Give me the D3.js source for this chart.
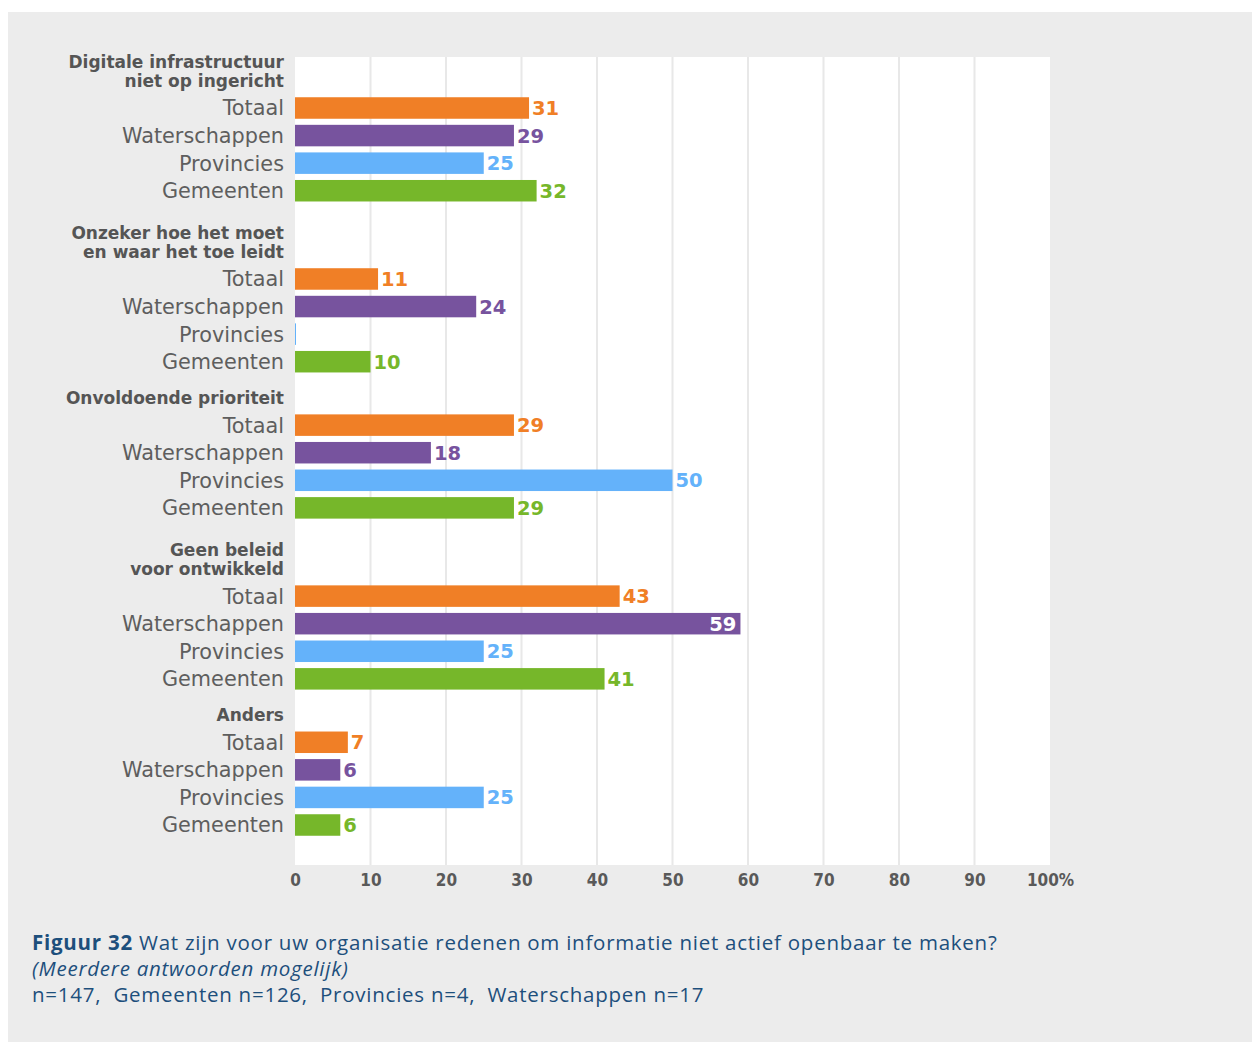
<!DOCTYPE html>
<html lang="nl">
<head>
<meta charset="utf-8">
<title>Figuur 32</title>
<script src="https://d3js.org/d3.v7.min.js"></script>
<style>
  body { margin: 0; background: #fff; }
  .lbl { font-family: "DejaVu Sans", sans-serif; fill: #5e5e5e; }
  .hdr { font-family: "DejaVu Sans", sans-serif; font-weight: bold; fill: #555; }
  .val { font-family: "DejaVu Sans", sans-serif; font-weight: bold; }
  .cap { font-family: "Open Sans", sans-serif; fill: #1d4f7c; }
</style>
</head>
<body>
<svg width="1252" height="1042"></svg>
<script>
// categorieën (koppen) en reeksen
var groups = [
  ["Digitale infrastructuur", "niet op ingericht"],
  ["Onzeker hoe het moet", "en waar het toe leidt"],
  ["Onvoldoende prioriteit"],
  ["Geen beleid", "voor ontwikkeld"],
  ["Anders"]
];
var series = ["Totaal", "Waterschappen", "Provincies", "Gemeenten"];
var colors = ["#f07f26", "#77539e", "#64b2fa", "#76b72a"];

var totaal        = [31, 11, 29, 43, 7];
var waterschappen = [29, 24, 18, 59, 6];
var provincies    = [25, 0, 50, 25, 25];
var gemeenten     = [32, 10, 29, 41, 6];
var values = [totaal, waterschappen, provincies, gemeenten];

var ticks = [0, 10, 20, 30, 40, 50, 60, 70, 80, 90, 100];

var svg = d3.select("svg");

// grijs vlak
svg.append("rect").attr("x", 8).attr("y", 12).attr("width", 1244).attr("height", 1030).attr("fill", "#ececec");

var plot = { left: 295, right: 1050, top: 57, bottom: 865 };
svg.append("rect").attr("x", plot.left).attr("y", plot.top)
  .attr("width", plot.right - plot.left).attr("height", plot.bottom - plot.top).attr("fill", "#fff");

var x = d3.scaleLinear().domain([0, 100]).range([plot.left, plot.right]);

// rij-posities in "eenheden": koppen met twee regels nemen meer ruimte
var rows = [];
var u = 0;
groups.forEach(function(g, gi) {
  if (gi > 0) u += 1.4 + 0.9 * g.length;
  series.forEach(function(s, si) {
    rows.push({ g: gi, s: si, u: u, v: values[si][gi] });
    if (si < 3) u += 1;
  });
});
var y = d3.scaleLinear().domain([0, u]).range([108, 825]);
var barH = 21.5;

// rasterlijnen
svg.append("g").selectAll("line").data(ticks.slice(1, -1)).enter().append("line")
  .attr("x1", function(d) { return x(d); }).attr("x2", function(d) { return x(d); })
  .attr("y1", plot.top).attr("y2", plot.bottom)
  .attr("stroke", "#e8e8e8").attr("stroke-width", 2);

// as
var axis = d3.axisBottom(x).tickValues(ticks).tickSize(0).tickPadding(0)
  .tickFormat(function(d) { return d === 100 ? "100%" : d; });
var ax = svg.append("g").attr("transform", "translate(0," + 874 + ")").call(axis);
ax.select(".domain").remove();
ax.selectAll("text").attr("font-size", 17).attr("dy", "0.71em")
  .attr("font-family", "'DejaVu Sans Condensed', 'DejaVu Sans', sans-serif")
  .attr("font-weight", "bold").attr("fill", "#595959");

// balken
svg.append("g").selectAll("rect").data(rows).enter().append("rect")
  .attr("x", x(0))
  .attr("y", function(d) { return y(d.u) - barH / 2; })
  .attr("width", function(d) { return Math.max(1, x(d.v) - x(0)); })
  .attr("height", barH)
  .attr("fill", function(d) { return colors[d.s]; });

// waarden
svg.append("g").selectAll("text").data(rows.filter(function(d) { return d.v > 0; })).enter().append("text")
  .attr("class", "val")
  .attr("font-size", 19.5)
  .attr("x", function(d) { return d.v > 55 ? x(d.v) - 4 : x(d.v) + 3; })
  .attr("y", function(d) { return y(d.u); })
  .attr("dy", "0.36em")
  .attr("text-anchor", function(d) { return d.v > 55 ? "end" : "start"; })
  .attr("fill", function(d) { return d.v > 55 ? "#fff" : colors[d.s]; })
  .text(function(d) { return d.v; });

// rijlabels
svg.append("g").selectAll("text").data(rows).enter().append("text")
  .attr("class", "lbl")
  .attr("font-size", 20.8)
  .attr("x", plot.left - 11)
  .attr("y", function(d) { return y(d.u); })
  .attr("dy", "0.36em")
  .attr("text-anchor", "end")
  .text(function(d) { return series[d.s]; });

// koppen
groups.forEach(function(g, gi) {
  var first = rows.filter(function(r) { return r.g === gi; })[0];
  var yLast = y(first.u) - 27 - (g.length > 1 ? 0.5 : 0);
  g.forEach(function(line, li) {
    svg.append("text").attr("class", "hdr")
      .attr("font-size", 17)
      .attr("x", plot.left - 11)
      .attr("y", yLast - (g.length - 1 - li) * 18.5)
      .attr("dy", "0.36em")
      .attr("text-anchor", "end")
      .text(line);
  });
});

// onderschrift
var cap = svg.append("g").attr("class", "cap").attr("font-size", 20.5).attr("letter-spacing", 0.75);
var t1 = cap.append("text").attr("x", 32).attr("y", 950);
t1.append("tspan").attr("font-weight", "bold").text("Figuur 32");
t1.append("tspan").text(" Wat zijn voor uw organisatie redenen om informatie niet actief openbaar te maken?");
cap.append("text").attr("x", 32).attr("y", 976).attr("font-style", "italic").text("(Meerdere antwoorden mogelijk)");
cap.append("text").attr("x", 32).attr("y", 1002).attr("xml:space", "preserve").text("n=147,  Gemeenten n=126,  Provincies n=4,  Waterschappen n=17");
</script>
</body>
</html>
